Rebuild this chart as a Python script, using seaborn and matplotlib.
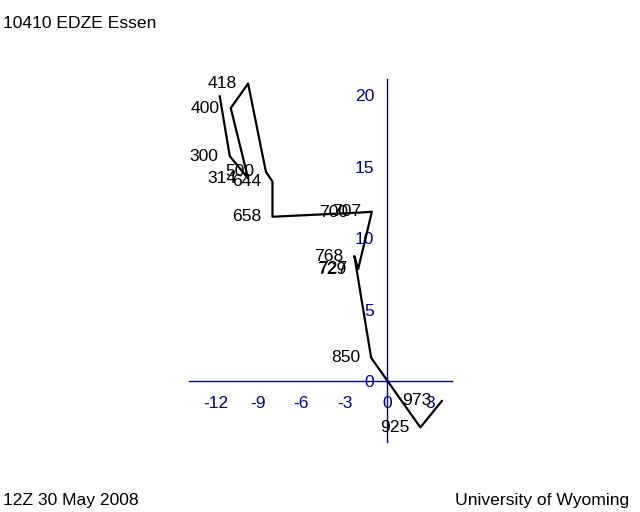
import matplotlib
matplotlib.use("Agg")
import matplotlib.pyplot as plt
import seaborn as sns
import pandas as pd

# Hodograph data (u, v components in m/s) with pressure-level labels
levels = ["973", "925", "850", "768", "729", "727", "707", "700", "658",
          "644", "500", "418", "400", "314", "300", ""]
u_wind = [3.80, 2.29, -1.14, -2.31, -2.05, -2.03, -1.09, -1.98, -8.02,
          -8.02, -8.48, -9.72, -10.93, -9.72, -11.0, -11.7]
v_wind = [-1.38, -3.24, 1.63, 8.74, 7.83, 7.90, 11.84, 11.78, 11.49,
          13.94, 14.64, 20.80, 19.09, 14.17, 15.73, 19.93]

x_ticks = [-12, -9, -6, -3, 0, 3]
y_ticks = [0, 5, 10, 15, 20]

title = "10410 EDZE Essen"
footer_left = "12Z 30 May 2008"
footer_right = "University of Wyoming"

sns.set_style("white")
plt.rcParams["font.family"] = ["Liberation Sans", "DejaVu Sans"]
plt.rcParams["font.size"] = 12.6
plt.rcParams["text.color"] = "black"

axis_color = "#000088"
fs = 12.6

df = pd.DataFrame({"u": u_wind, "v": v_wind, "level": levels})

fig = plt.figure(figsize=(6.4, 5.12), dpi=100)
ax = fig.add_axes([0.2958, 0.1373, 0.4105, 0.7078])
ax.set_facecolor("none")

sns.lineplot(data=df, x="u", y="v", sort=False, estimator=None,
             color="black", linewidth=1.6, ax=ax)

for _, r in df.iterrows():
    if r["level"]:
        ax.annotate(r["level"], (r["u"], r["v"]), xytext=(-8, 0),
                    textcoords="offset points", ha="right", va="center",
                    color="black", fontsize=fs)

ax.set_xlim(-13.82, 4.5)
ax.set_ylim(-4.24, 21.1)

for side in ["top", "right"]:
    ax.spines[side].set_visible(False)
ax.spines["left"].set_position(("data", 0))
ax.spines["bottom"].set_position(("data", 0))
for side in ["left", "bottom"]:
    ax.spines[side].set_color(axis_color)
    ax.spines[side].set_linewidth(1.0)

ax.set_xticks(x_ticks)
ax.set_yticks(y_ticks)
ax.set_xticklabels([str(t) for t in x_ticks])
ax.set_yticklabels([str(t) for t in y_ticks])
ax.tick_params(axis="x", direction="out", length=7.5, width=1.0,
               colors=axis_color, labelsize=fs, pad=3)
ax.tick_params(axis="y", direction="out", length=8, width=1.0,
               colors=axis_color, labelsize=fs, pad=1.5)
ax.set_xlabel("")
ax.set_ylabel("")

fig.text(0.005, 1 - 24 / 512, title, ha="left", va="center", fontsize=fs,
         color="black")
fig.text(0.005, 12 / 512, footer_left, ha="left", va="center", fontsize=fs,
         color="black")
fig.text(0.983, 12 / 512, footer_right, ha="right", va="center", fontsize=fs,
         color="black")

fig.savefig("out.png", dpi=100)
